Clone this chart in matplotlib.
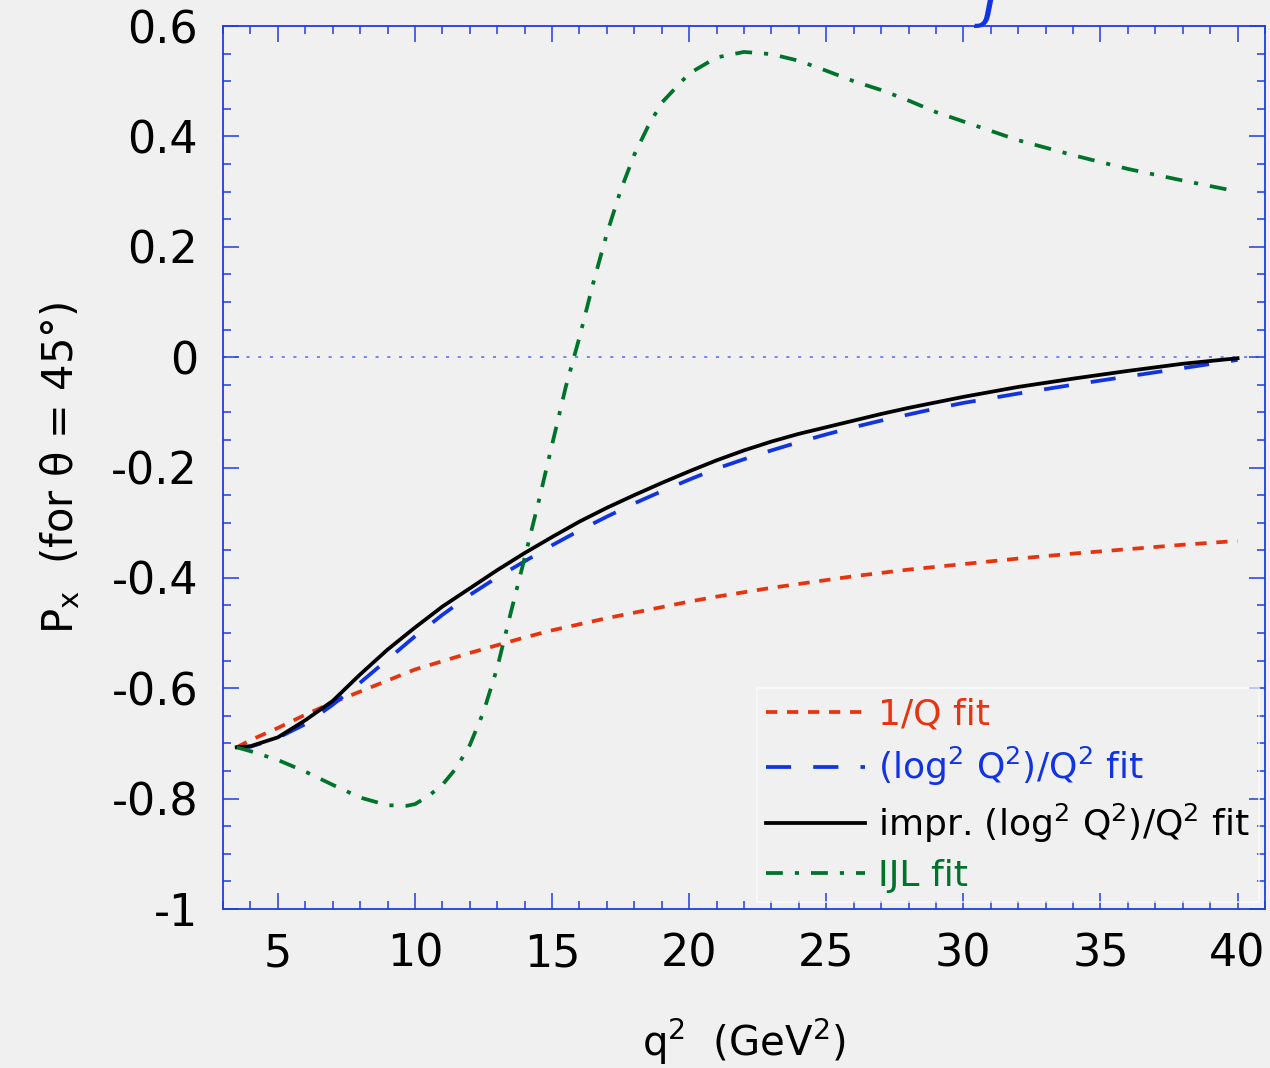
import matplotlib
matplotlib.use("Agg")
import matplotlib.pyplot as plt
from matplotlib.ticker import MultipleLocator, FuncFormatter

# q^2 grid (GeV^2) and the four fits of P_x at theta = 45 deg
q2 = [3.5, 4, 5, 6, 7, 8, 9, 10, 11, 12, 13, 14, 15, 16, 17, 18, 19, 20,
      21, 22, 23, 24, 25, 26, 27, 28, 29, 30, 32, 34, 36, 38, 40]

px_inv_q = [-0.707, -0.694, -0.672, -0.648, -0.626, -0.606, -0.586, -0.566,
            -0.551, -0.536, -0.522, -0.508, -0.495, -0.484, -0.473, -0.463,
            -0.453, -0.443, -0.434, -0.426, -0.418, -0.411, -0.404, -0.397,
            -0.391, -0.385, -0.380, -0.375, -0.365, -0.356, -0.348, -0.340,
            -0.333]

px_log2 = [-0.707, -0.706, -0.690, -0.665, -0.630, -0.590, -0.548, -0.506,
           -0.467, -0.431, -0.399, -0.370, -0.341, -0.314, -0.289, -0.265,
           -0.243, -0.222, -0.202, -0.185, -0.169, -0.154, -0.140, -0.127,
           -0.115, -0.104, -0.093, -0.083, -0.066, -0.050, -0.035, -0.020,
           -0.005]

px_impr = [-0.707, -0.705, -0.689, -0.658, -0.623, -0.575, -0.530, -0.490,
           -0.452, -0.419, -0.386, -0.355, -0.326, -0.298, -0.273, -0.250,
           -0.228, -0.207, -0.187, -0.169, -0.153, -0.139, -0.127, -0.115,
           -0.103, -0.092, -0.082, -0.072, -0.054, -0.039, -0.025, -0.012,
           -0.002]

# IJL fit needs a finer grid through the steep rise
q2_ijl = [3.5, 4, 5, 6, 7, 8, 9, 9.7, 10, 10.5, 11, 11.5, 12, 12.5, 13, 13.5,
          14, 14.5, 15, 15.5, 16, 16.5, 17, 17.5, 18, 18.5, 19, 20, 21, 22,
          23, 24, 25, 26, 27, 28, 29, 30, 32, 34, 36, 38, 40]
px_ijl = [-0.707, -0.714, -0.730, -0.751, -0.775, -0.798, -0.812, -0.813,
          -0.810, -0.795, -0.775, -0.745, -0.703, -0.643, -0.563, -0.462,
          -0.364, -0.264, -0.159, -0.054, 0.036, 0.134, 0.224, 0.302, 0.367,
          0.418, 0.461, 0.514, 0.543, 0.553, 0.549, 0.537, 0.519, 0.500,
          0.484, 0.465, 0.444, 0.427, 0.393, 0.366, 0.341, 0.320, 0.300]

labels = ["1/Q fit",
          "(log$^2$ Q$^2$)/Q$^2$ fit",
          "impr. (log$^2$ Q$^2$)/Q$^2$ fit",
          "IJL fit"]

RED = "#e8330f"
BLUE = "#1034e2"
GREEN = "#00732b"
FRAME = "#1f3ee0"
BG = "#f0f0f0"

plt.rcParams["axes.unicode_minus"] = False
plt.rcParams["mathtext.default"] = "regular"

fig = plt.figure(figsize=(12.7, 10.68), dpi=100, facecolor=BG)
ax = fig.add_axes([223 / 1270, 1 - 909 / 1068, 1042 / 1270, 883 / 1068])
ax.set_facecolor(BG)

lw = 2.7
ax.axhline(0, color="#6a7de8", lw=1.3, linestyle=(0, (1.7, 4.8)), zorder=1)

h1, = ax.plot(q2, px_inv_q, color=RED, lw=lw, linestyle=(0, (3.0, 2.6)),
              dash_capstyle="butt")
h2, = ax.plot(q2, px_log2, color=BLUE, lw=lw, linestyle=(0, (6.7, 5.9)),
              dash_capstyle="butt")
h3, = ax.plot(q2, px_impr, color="black", lw=lw)
h4, = ax.plot(q2_ijl, px_ijl, color=GREEN, lw=lw,
              linestyle=(0, (4.5, 3.2, 1.1, 3.2)), dash_capstyle="butt")

ax.set_xlim(3, 41)
ax.set_ylim(-1, 0.6)

ax.xaxis.set_major_locator(MultipleLocator(5))
ax.xaxis.set_minor_locator(MultipleLocator(1))
ax.yaxis.set_major_locator(MultipleLocator(0.2))
ax.yaxis.set_minor_locator(MultipleLocator(0.05))
ax.yaxis.set_major_formatter(FuncFormatter(lambda v, p: "%g" % (round(v, 2) + 0.0)))

for s in ax.spines.values():
    s.set_color(FRAME)
    s.set_linewidth(1.3)

ax.tick_params(which="both", direction="in", top=True, right=True,
               color=FRAME, width=1.1)
ax.tick_params(which="major", length=11.5)
ax.tick_params(which="minor", length=6)
ax.tick_params(axis="x", which="major", labelsize=32, pad=17)
ax.tick_params(axis="y", which="major", labelsize=32, pad=18)

ax.set_xlabel("q$^2$  (GeV$^2$)", fontsize=29)
ax.xaxis.set_label_coords(0.5, -0.122)
ax.set_ylabel("P$_{x}$  (for θ = 45°)", fontsize=30)
ax.yaxis.set_label_coords(-0.135, 0.5)

leg = ax.legend([h1, h2, h3, h4], labels, loc="upper left",
                bbox_to_anchor=(0.5125, 0.250), borderaxespad=0,
                fontsize=26, handlelength=2.75, handletextpad=0.35,
                labelspacing=0.38, borderpad=0.25, fancybox=False,
                frameon=True)
leg.get_frame().set_facecolor("none")
leg.get_frame().set_edgecolor("#fbfbfb")
leg.get_frame().set_linewidth(1.2)
for t, c in zip(leg.get_texts(), [RED, BLUE, "black", GREEN]):
    t.set_color(c)

# tail of the heading text that sits above the frame
fig.text(982 / 1270, 1 - 17 / 1068, "J", color=BLUE, fontsize=40,
         style="italic", ha="left", va="baseline")

fig.savefig("out.png", dpi=100, facecolor=BG)
